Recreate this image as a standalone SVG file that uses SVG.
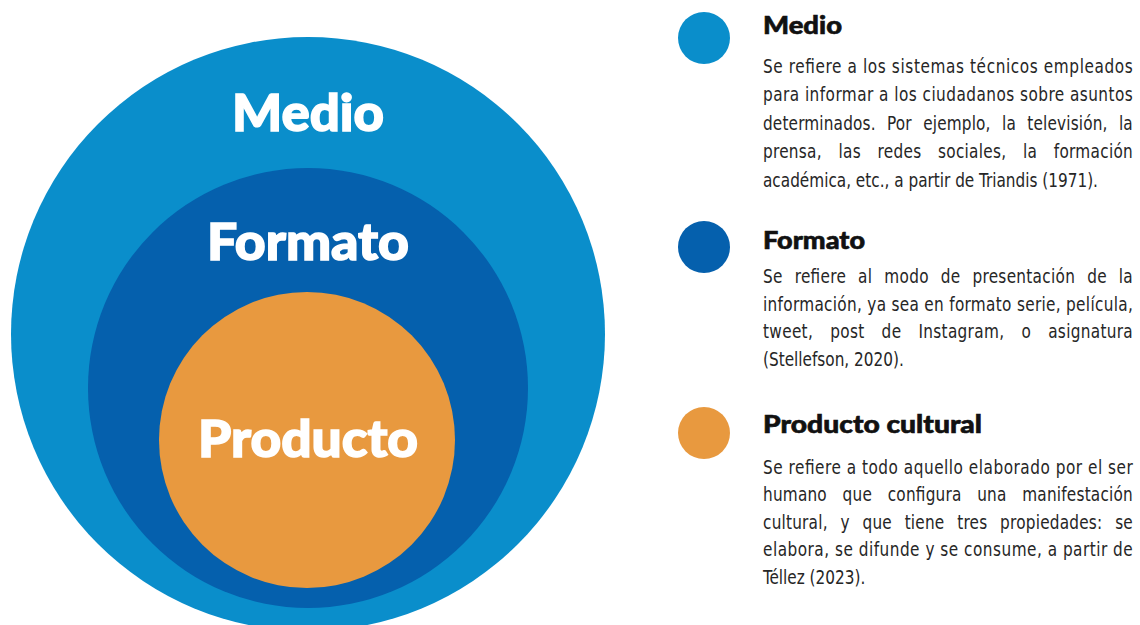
<svg xmlns="http://www.w3.org/2000/svg" width="1140" height="625" viewBox="0 0 1140 625">
<style>
.big{font-family:Lato,"Noto Sans",sans-serif;font-weight:900;fill:#fff;stroke:#fff;stroke-width:1.5px;text-anchor:middle}
.hd{font-family:Lato,"Noto Sans",sans-serif;font-weight:900;font-size:24px;fill:#111;stroke:#111;stroke-width:0.6px}
.bd{font-family:"DejaVu Sans",sans-serif;font-stretch:condensed;font-size:20px;fill:#262626}
</style>
<rect width="1140" height="625" fill="#fff"/>
<g id="node-medio">
<circle cx="308" cy="334" r="297" fill="#0A8ECB"/>
<text class="big" x="308" y="131" font-size="52" textLength="152" lengthAdjust="spacingAndGlyphs">Medio</text>
</g>
<g id="node-formato">
<circle cx="308" cy="388" r="220" fill="#0560AD"/>
<text class="big" x="308" y="260" font-size="52" textLength="202" lengthAdjust="spacingAndGlyphs">Formato</text>
</g>
<g id="node-producto">
<circle cx="307" cy="440" r="148" fill="#E8993F"/>
<text class="big" x="308" y="457" font-size="52" textLength="220" lengthAdjust="spacingAndGlyphs">Producto</text>
</g>
<g id="connectors"></g>
<g id="legend-medio">
<circle cx="704" cy="38" r="26" fill="#0A8ECB"/>
<text class="hd" x="763" y="34" textLength="79" lengthAdjust="spacingAndGlyphs">Medio</text>
<g transform="translate(763,0) scale(0.85,1)">
<text class="bd" x="0" y="73" textLength="435" lengthAdjust="spacing">Se refiere a los sistemas técnicos empleados</text>
<text class="bd" x="0" y="101.5" textLength="435" lengthAdjust="spacing">para informar a los ciudadanos sobre asuntos</text>
<text class="bd" x="0" y="130" word-spacing="7.5" textLength="435" lengthAdjust="spacing">determinados. Por ejemplo, la televisión, la</text>
<text class="bd" x="0" y="158.5" word-spacing="13.5" textLength="435" lengthAdjust="spacing">prensa, las redes sociales, la formación</text>
<text class="bd" x="0" y="187">académica, etc., a partir de Triandis (1971).</text>
</g>
</g>
<g id="legend-formato">
<circle cx="704" cy="247" r="26" fill="#0560AD"/>
<text class="hd" x="763" y="249" textLength="102" lengthAdjust="spacingAndGlyphs">Formato</text>
<g transform="translate(763,0) scale(0.85,1)">
<text class="bd" x="0" y="283" word-spacing="8" textLength="435" lengthAdjust="spacing">Se refiere al modo de presentación de la</text>
<text class="bd" x="0" y="311" textLength="435" lengthAdjust="spacing">información, ya sea en formato serie, película,</text>
<text class="bd" x="0" y="338.5" word-spacing="14" textLength="435" lengthAdjust="spacing">tweet, post de Instagram, o asignatura</text>
<text class="bd" x="0" y="366">(Stellefson, 2020).</text>
</g>
</g>
<g id="legend-producto">
<circle cx="704" cy="433" r="26" fill="#E8993F"/>
<text class="hd" x="763" y="433" textLength="219" lengthAdjust="spacingAndGlyphs">Producto cultural</text>
<g transform="translate(763,0) scale(0.85,1)">
<text class="bd" x="0" y="474" textLength="435" lengthAdjust="spacing">Se refiere a todo aquello elaborado por el ser</text>
<text class="bd" x="0" y="501.5" word-spacing="12.5" textLength="435" lengthAdjust="spacing">humano que configura una manifestación</text>
<text class="bd" x="0" y="529" word-spacing="9" textLength="435" lengthAdjust="spacing">cultural, y que tiene tres propiedades: se</text>
<text class="bd" x="0" y="556.5" textLength="435" lengthAdjust="spacing">elabora, se difunde y se consume, a partir de</text>
<text class="bd" x="0" y="584">Téllez (2023).</text>
</g>
</g>
</svg>
